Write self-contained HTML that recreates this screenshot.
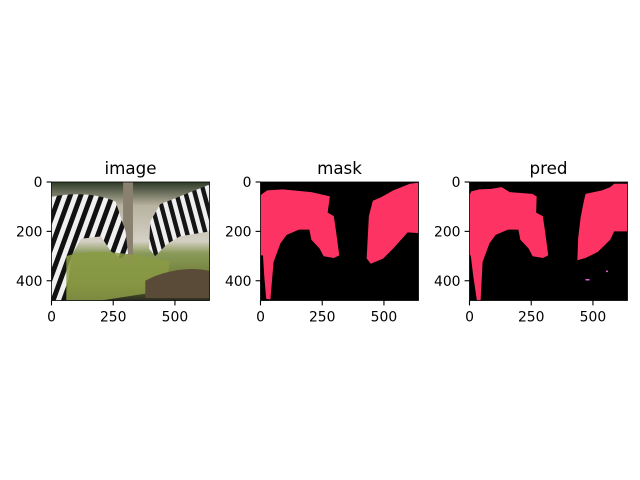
<!DOCTYPE html>
<html><head><meta charset="utf-8"><style>
html,body{margin:0;padding:0;background:#fff;}
svg{display:block;font-family:"DejaVu Sans","Liberation Sans",sans-serif;}
</style></head><body>
<svg id="fig" width="640" height="480" viewBox="0 0 640 480" xmlns="http://www.w3.org/2000/svg">
<rect width="640" height="480" fill="#fff"/>
<defs>
<clipPath id="c1"><rect x="0" y="0" width="640" height="480"/></clipPath>
<linearGradient id="bg" x1="0" y1="0" x2="0" y2="1">
<stop offset="0" stop-color="#2d3a26"/><stop offset="0.2" stop-color="#b8b2a0"/><stop offset="0.5" stop-color="#d4d0c4"/><stop offset="0.6" stop-color="#8a9a5a"/><stop offset="0.85" stop-color="#6a7a30"/><stop offset="1" stop-color="#2a2a20"/>
</linearGradient>
<pattern id="stripes" width="40" height="40" patternUnits="userSpaceOnUse" patternTransform="rotate(20)">
<rect width="40" height="40" fill="#f0f0f0"/><rect width="20" height="40" fill="#111"/>
</pattern>
<pattern id="stripes2" width="36" height="36" patternUnits="userSpaceOnUse" patternTransform="rotate(-15)">
<rect width="36" height="36" fill="#eee"/><rect width="18" height="36" fill="#151515"/>
</pattern>
</defs>
<g id="panels"></g>
</svg>
<script>
const titles = ["image","mask","pred"];
const xTicks = [0,250,500];
const yTicks = [0,200,400];
const imgW = 640, imgH = 480;
const panelLeft = [51.5,260.5,469.5];
const panelTop = 182;
const panelW = 158, panelH = 118.5;
const maskLeft = [[0,55],[7,48],[27,34],[90,30],[206,41],[281,58],[272,124],[297,138],[306,200],[319,297],[297,308],[256,301],[239,269],[206,234],[198,193],[156,193],[106,214],[81,248],[53,324],[40,476],[23,473],[15,379],[10,297],[0,297]];
const maskRight = [[435,214],[439,138],[455,76],[488,62],[538,34],[605,7],[640,3],[640,207],[596,204],[538,269],[497,310],[447,331],[430,310]];
const predLeft = [[0,55],[7,38],[40,30],[88,28],[130,21],[163,41],[254,48],[272,58],[270,124],[297,138],[306,200],[319,297],[297,308],[256,301],[239,269],[206,234],[198,193],[156,193],[106,214],[81,248],[53,324],[45,480],[30,480],[15,379],[5,297],[0,297]];
const predRight = [[450,145],[462,83],[470,48],[537,34],[570,21],[586,7],[640,7],[640,200],[586,200],[570,234],[520,283],[470,308],[437,317],[440,228]];
const predDots = [[553,359],[478,393],[470,393]];
const NS = "http://www.w3.org/2000/svg";
const root = document.getElementById("panels");
function mk(tag, attrs, parent){const e=document.createElementNS(NS,tag);for(const k in attrs)e.setAttribute(k,attrs[k]);parent.appendChild(e);return e;}
function poly(pts){return pts.map(p=>p[0]+","+p[1]).join(" ");}
titles.forEach((t,i)=>{
  const L = panelLeft[i];
  const sx = v => L + v*panelW/imgW;
  const sy = v => panelTop + v*panelH/imgH;
  const g = mk("g",{},root);
  
  
  const inner = mk("g",{transform:`translate(${L},${panelTop}) scale(${panelW/imgW},${panelH/imgH})`,"clip-path":"url(#c1)"},g);
  if(i===0){
    mk("rect",{x:0,y:0,width:640,height:480,fill:"url(#bg)"},inner);
    mk("rect",{x:290,y:0,width:40,height:330,fill:"#8a8070"},inner);
    mk("path",{d:"M0,60 C100,40 200,50 260,80 L300,200 L310,290 L280,310 L240,280 L200,220 L120,230 L80,300 L60,480 L0,480 Z",fill:"url(#stripes)"},inner);
    mk("path",{d:"M640,10 L540,50 L440,90 L400,160 L395,270 L420,300 L470,250 L520,220 L640,200 Z",fill:"url(#stripes2)"},inner);
    mk("path",{d:"M60,300 C200,260 350,300 480,320 L460,440 L200,480 L60,480 Z",fill:"#8b9b45",opacity:"0.85"},inner);
    mk("path",{d:"M380,400 C450,360 560,340 640,360 L640,470 L380,470 Z",fill:"#5a4a38"},inner);
  } else {
    mk("rect",{x:0,y:0,width:640,height:480,fill:"#000"},inner);
    const a = i===1?maskLeft:predLeft, b = i===1?maskRight:predRight;
    const p1 = mk("polygon",{points:poly(a),fill:"#fd3364"},inner);
    
    
    const p2 = mk("polygon",{points:poly(b),fill:"#fd3364"},inner);
    
    
    if(i===2){predDots.forEach(d=>{const r=mk("rect",{x:d[0],y:d[1],width:8,height:6,fill:"#e060e0"},inner);
      
      });}
  }
  mk("rect",{x:L,y:panelTop,width:panelW,height:panelH,fill:"none",stroke:"#000","stroke-width":0.8},g);
  const tt = mk("text",{x:L+panelW/2,y:panelTop-8,"text-anchor":"middle","font-size":"16.7"},g);
  tt.textContent = t;
  
  
  xTicks.forEach(v=>{
    mk("line",{x1:sx(v),x2:sx(v),y1:panelTop+panelH,y2:panelTop+panelH+4.9,stroke:"#000","stroke-width":1.1},g);
    const tx = mk("text",{x:sx(v),y:panelTop+panelH+21,"text-anchor":"middle","font-size":"13.9"},g);
    tx.textContent = v;
    
    
  });
  yTicks.forEach(v=>{
    mk("line",{x1:L-4.9,x2:L,y1:sy(v),y2:sy(v),stroke:"#000","stroke-width":1.1},g);
    const ty = mk("text",{x:L-9,y:sy(v)+5,"text-anchor":"end","font-size":"13.9"},g);
    ty.textContent = v;
    
    
  });
});
</script>
</body></html>
